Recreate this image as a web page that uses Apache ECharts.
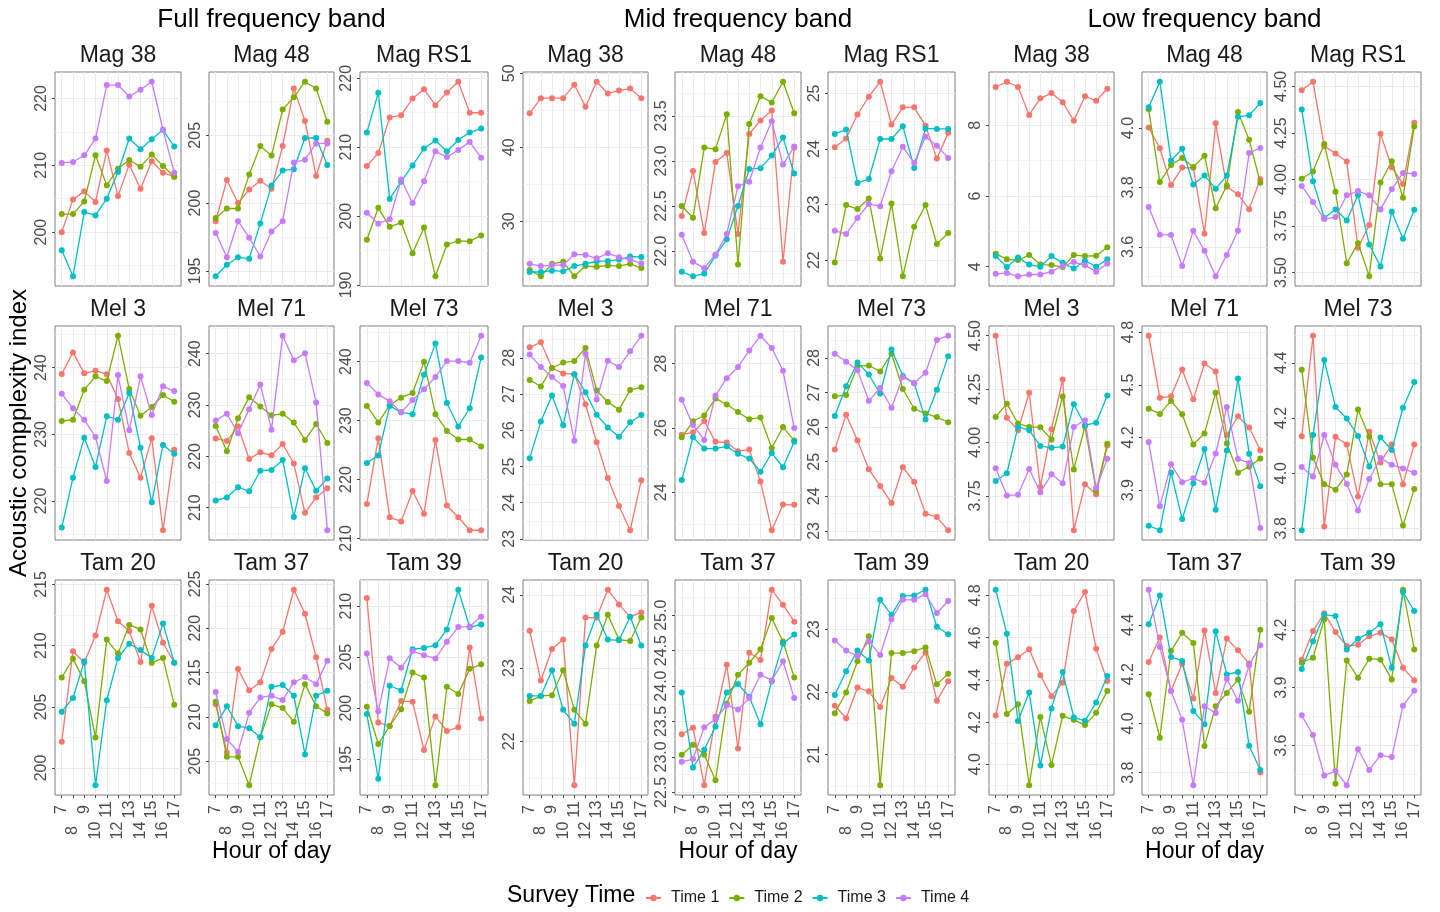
<!DOCTYPE html>
<html>
<head>
<meta charset="utf-8">
<title>Acoustic complexity index by hour of day</title>
<script src="https://cdn.jsdelivr.net/npm/echarts@6/dist/echarts.min.js"></script>
<style>
  html, body { margin: 0; padding: 0; background: #ffffff; }
  #chart { width: 1440px; height: 912px; }
</style>
</head>
<body>
<div id="chart"></div>
<script>
// Hours of the survey day and the four survey times
const hours = [7, 8, 9, 10, 11, 12, 13, 14, 15, 16, 17];
const times = ['Time 1', 'Time 2', 'Time 3', 'Time 4'];
const bands = ['Full frequency band', 'Mid frequency band', 'Low frequency band'];
const siteRows = [
  ['Mag 38', 'Mag 48', 'Mag RS1'],
  ['Mel 3', 'Mel 71', 'Mel 73'],
  ['Tam 20', 'Tam 37', 'Tam 39']
];

// Mean acoustic complexity index, one row per survey time, one value per hour (7..17)
// ---- Full frequency band ----
const fullMag38 = [
  [200.0, 204.9, 206.1, 204.5, 212.2, 205.4, 210.1, 206.5, 210.6, 208.9, 208.3],
  [202.7, 202.7, 204.6, 211.5, 207.0, 209.5, 210.8, 209.8, 211.6, 209.9, 208.3],
  [197.3, 193.4, 203.0, 202.5, 205.0, 209.0, 214.0, 212.4, 213.9, 215.3, 212.8],
  [210.35, 210.5, 211.5, 214.0, 222.0, 222.0, 220.3, 221.3, 222.5, 215.3, 208.9]
];
const fullMag48 = [
  [198.66, 201.7, 200.0, 201.0, 201.65, 201.05, 204.2, 208.45, 206.06, 202.0, 204.6],
  [198.9, 199.6, 199.6, 202.1, 204.2, 203.5, 206.9, 207.8, 208.95, 208.45, 206.0],
  [194.6, 195.45, 196.0, 195.9, 198.5, 201.3, 202.4, 202.5, 204.8, 204.8, 202.8],
  [197.8, 196.0, 198.66, 197.45, 196.06, 197.9, 198.66, 203.0, 203.2, 204.4, 204.4]
];
const fullMagRS1 = [
  [207.27, 209.14, 214.3, 214.65, 217.05, 218.4, 216.1, 217.95, 219.5, 215.0, 215.0],
  [196.58, 201.2, 198.45, 199.07, 194.6, 198.36, 191.27, 195.87, 196.4, 196.34, 197.2],
  [212.15, 217.9, 202.5, 205.0, 207.36, 209.8, 210.96, 209.4, 211.05, 212.15, 212.7],
  [200.5, 198.9, 199.55, 205.3, 201.9, 205.06, 209.4, 208.56, 209.6, 210.77, 208.47]
];
const fullMel3 = [
  [239.05, 242.3, 239.15, 239.55, 239.0, 235.3, 227.2, 223.5, 229.4, 215.6, 227.7],
  [232.0, 232.2, 236.7, 238.7, 238.0, 244.8, 236.8, 232.8, 234.1, 235.9, 234.9],
  [216.0, 223.5, 229.5, 225.1, 232.7, 232.2, 236.2, 228.0, 219.8, 228.4, 227.1],
  [236.1, 233.9, 232.2, 229.6, 223.0, 238.9, 230.6, 238.7, 232.9, 237.2, 236.5]
];
const fullMel71 = [
  [223.5, 223.0, 225.8, 219.5, 220.8, 220.2, 222.4, 218.6, 209.0, 212.0, 213.8],
  [225.9, 221.0, 227.4, 231.5, 229.7, 228.0, 228.3, 226.6, 223.2, 226.3, 222.6],
  [211.4, 212.0, 214.0, 213.2, 217.2, 217.35, 219.3, 208.2, 217.7, 213.3, 215.7],
  [227.0, 228.3, 224.5, 229.2, 234.0, 225.2, 243.5, 238.7, 240.1, 230.5, 205.6]
];
const fullMel73 = [
  [215.86, 227.0, 213.6, 212.9, 218.06, 214.2, 226.7, 215.6, 213.6, 211.4, 211.4],
  [232.5, 229.7, 232.6, 233.9, 234.7, 240.0, 231.1, 228.25, 226.8, 226.8, 225.6],
  [222.8, 224.1, 232.5, 231.4, 231.1, 237.8, 243.1, 233.0, 229.0, 232.1, 240.7],
  [236.4, 234.45, 233.3, 231.4, 233.5, 235.3, 237.4, 240.1, 240.1, 239.8, 244.4]
];
const fullTam20 = [
  [202.15, 209.54, 208.6, 210.84, 214.57, 212.0, 211.2, 208.67, 213.26, 210.24, 208.6],
  [207.4, 208.94, 207.1, 202.5, 210.5, 209.35, 211.7, 211.33, 208.6, 209.0, 205.16],
  [204.6, 205.73, 208.72, 198.59, 205.54, 209.0, 210.16, 209.65, 209.0, 211.82, 208.6],
  null
];
const fullTam37 = [
  [211.44, 206.0, 215.4, 213.0, 213.9, 217.66, 219.6, 224.34, 221.64, 216.73, 210.8],
  [211.7, 205.5, 205.5, 202.3, 207.7, 211.44, 211.0, 209.45, 213.7, 211.2, 210.4],
  [209.07, 211.2, 208.96, 208.73, 207.7, 213.4, 213.6, 212.4, 205.77, 212.4, 212.94],
  [212.8, 207.5, 206.07, 210.46, 212.2, 212.4, 211.9, 213.9, 214.5, 213.7, 216.35]
];
const fullTam39 = [
  [210.8, 198.6, 198.26, 200.7, 200.64, 195.9, 199.2, 197.77, 198.13, 205.94, 199.0],
  [200.15, 196.5, 198.26, 199.9, 203.5, 203.0, 192.46, 202.1, 201.4, 203.86, 204.3],
  [199.43, 193.1, 202.2, 201.74, 205.78, 205.9, 206.17, 207.7, 211.6, 207.93, 208.2],
  [205.36, 199.7, 204.9, 203.96, 205.6, 205.2, 204.87, 206.5, 207.96, 208.0, 208.97]
];

// ---- Mid frequency band ----
const midMag38 = [
  [44.6, 46.65, 46.65, 46.65, 48.47, 45.5, 48.87, 47.27, 47.7, 47.94, 46.65],
  [23.41, 22.57, 24.26, 24.52, 22.57, 23.95, 23.86, 24.04, 23.95, 24.26, 23.68],
  [23.15, 23.15, 23.33, 23.24, 23.95, 24.26, 24.6, 24.65, 24.83, 25.23, 25.19],
  [24.26, 23.95, 24.08, 24.08, 25.54, 25.45, 25.0, 25.68, 25.14, 24.83, 24.3]
];
const midMag48 = [
  [22.39, 22.89, 22.2, 22.99, 23.09, 22.19, 23.3, 23.45, 23.56, 21.88, 23.15],
  [22.5, 22.37, 23.15, 23.13, 23.52, 21.85, 23.41, 23.72, 23.65, 23.88, 23.53],
  [21.77, 21.72, 21.75, 21.95, 22.13, 22.5, 22.91, 22.92, 23.06, 23.26, 22.86],
  [22.18, 21.88, 21.81, 21.96, 22.19, 22.72, 22.77, 23.15, 23.44, 22.96, 23.16]
];
const midMagRS1 = [
  [24.03, 24.19, 24.62, 24.94, 25.21, 24.44, 24.75, 24.75, 24.42, 23.83, 24.29],
  [21.96, 22.99, 22.92, 23.11, 22.03, 23.02, 21.71, 22.6, 22.99, 22.29, 22.49],
  [24.27, 24.35, 23.39, 23.46, 24.18, 24.18, 24.41, 23.66, 24.37, 24.36, 24.36],
  [22.53, 22.47, 22.76, 23.01, 22.97, 23.6, 24.04, 23.75, 24.22, 24.06, 23.84]
];
const midMel3 = [
  [28.29, 28.43, 27.72, 27.57, 27.55, 26.72, 25.67, 24.68, 23.91, 23.24, 24.62],
  [27.39, 27.21, 27.72, 27.87, 27.91, 28.27, 27.1, 26.78, 26.57, 27.11, 27.19],
  [25.23, 26.24, 26.96, 26.14, 27.55, 27.05, 26.43, 26.08, 25.82, 26.22, 26.42],
  [28.09, 27.75, 27.47, 27.22, 25.71, 28.11, 26.85, 27.92, 27.75, 28.18, 28.61]
];
const midMel71 = [
  [25.79, 25.87, 26.22, 25.57, 25.55, 25.28, 25.33, 24.34, 22.82, 23.62, 23.61],
  [25.71, 26.21, 26.39, 26.92, 26.73, 26.5, 26.27, 26.33, 25.38, 26.03, 25.61],
  [24.38, 25.71, 25.36, 25.36, 25.43, 25.2, 25.05, 24.64, 25.22, 24.78, 25.57],
  [26.88, 26.09, 25.63, 27.01, 27.55, 27.9, 28.41, 28.87, 28.49, 27.78, 26.0]
];
const midMel73 = [
  [25.35, 26.36, 25.61, 24.78, 24.3, 23.81, 24.84, 24.42, 23.5, 23.4, 23.02],
  [26.89, 26.93, 27.76, 27.78, 27.61, 28.12, 27.1, 26.53, 26.39, 26.29, 26.14],
  [26.32, 27.18, 27.87, 27.52, 26.97, 28.24, 27.48, 27.27, 26.22, 27.08, 28.05],
  [28.12, 27.89, 27.64, 26.76, 27.13, 26.56, 27.45, 27.27, 27.57, 28.52, 28.64]
];
const midTam20 = [
  [23.51, 22.83, 23.26, 23.39, 21.4, 23.69, 23.69, 24.07, 23.87, 23.7, 23.76],
  [22.55, 22.62, 22.63, 22.97, 22.43, 22.24, 23.31, 23.73, 23.39, 23.37, 23.69],
  [22.62, 22.62, 22.97, 22.43, 22.24, 23.31, 23.73, 23.39, 23.38, 23.7, 23.31],
  null
];
const midTam37 = [
  [23.32, 23.41, 22.6, 23.57, 24.3, 23.12, 24.47, 24.37, 25.36, 25.15, 24.91],
  [23.03, 23.17, 23.03, 22.67, 23.75, 24.16, 24.33, 24.52, 24.96, 24.63, 24.12],
  [23.91, 22.85, 23.1, 23.43, 23.91, 24.03, 23.85, 23.46, 24.07, 24.6, 24.73],
  [22.93, 22.97, 23.42, 23.53, 23.73, 23.67, 23.83, 24.16, 24.08, 24.35, 23.83]
];
const midTam39 = [
  [21.78, 21.58, 22.07, 22.01, 21.76, 22.22, 22.08, 22.39, 22.63, 21.86, 22.17],
  [21.66, 21.99, 22.49, 22.89, 20.51, 22.62, 22.62, 22.65, 22.71, 22.12, 22.29],
  [21.95, 22.33, 22.66, 22.5, 23.47, 23.23, 23.53, 23.54, 23.63, 23.04, 22.92],
  [22.82, 22.66, 22.57, 22.81, 22.59, 23.16, 23.47, 23.47, 23.56, 23.26, 23.45]
];

// ---- Low frequency band ----
const lowMag38 = [
  [9.08, 9.23, 9.08, 8.29, 8.76, 8.91, 8.65, 8.13, 8.82, 8.69, 9.03],
  [4.37, 4.21, 4.19, 4.33, 4.06, 4.05, 3.99, 4.33, 4.3, 4.31, 4.55],
  [4.3, 3.99, 4.26, 4.06, 4.0, 4.3, 4.11, 3.95, 4.17, 4.0, 4.21],
  [3.8, 3.82, 3.73, 3.78, 3.78, 3.86, 4.02, 4.13, 4.04, 3.86, 4.09]
];
const lowMag48 = [
  [4.002, 3.932, 3.808, 3.867, 3.866, 3.644, 4.016, 3.802, 3.777, 3.727, 3.828],
  [4.063, 3.818, 3.876, 3.899, 3.869, 3.907, 3.73, 3.807, 4.054, 3.961, 3.816],
  [4.07, 4.156, 3.891, 3.93, 3.81, 3.84, 3.796, 3.84, 4.038, 4.043, 4.084],
  [3.734, 3.641, 3.64, 3.536, 3.654, 3.587, 3.501, 3.573, 3.654, 3.916, 3.933]
];
const lowMagRS1 = [
  [4.479, 4.525, 4.179, 4.14, 4.096, 3.633, 3.755, 4.246, 4.066, 3.975, 4.305],
  [4.004, 4.043, 4.19, 3.934, 3.55, 3.658, 3.48, 3.984, 4.098, 3.902, 4.285],
  [4.376, 3.991, 3.793, 3.839, 3.78, 3.917, 3.651, 3.532, 3.826, 3.681, 3.837],
  [3.965, 3.879, 3.787, 3.798, 3.915, 3.938, 3.915, 3.839, 3.947, 4.035, 4.03]
];
const lowMel3 = [
  [4.5, 4.116, 4.057, 4.233, 3.792, 4.062, 4.295, 3.589, 3.804, 3.758, 3.986],
  [4.12, 4.182, 4.089, 4.073, 4.071, 4.014, 4.216, 3.874, 4.076, 3.773, 3.994],
  [3.82, 3.856, 4.073, 4.057, 3.984, 3.975, 3.981, 4.179, 4.081, 4.092, 4.22],
  [3.879, 3.752, 3.755, 3.876, 3.767, 3.851, 3.809, 4.073, 4.104, 3.787, 3.924]
];
const lowMel71 = [
  [4.779, 4.426, 4.434, 4.587, 4.417, 4.621, 4.575, 4.213, 4.321, 4.257, 4.128],
  [4.364, 4.334, 4.408, 4.332, 4.16, 4.223, 4.455, 4.166, 4.0, 4.034, 4.081],
  [3.698, 3.672, 4.0, 3.736, 3.94, 4.134, 3.789, 4.126, 4.536, 4.108, 3.923],
  [4.174, 3.808, 4.047, 3.945, 3.968, 3.942, 4.109, 4.374, 4.077, 4.055, 3.685]
];
const lowMel73 = [
  [4.134, 4.498, 3.807, 4.132, 4.104, 3.915, 4.15, 4.039, 4.104, 3.96, 4.104],
  [4.375, 4.056, 3.96, 3.94, 3.995, 4.231, 4.132, 3.96, 3.96, 3.81, 3.943],
  [3.793, 4.138, 4.41, 4.24, 4.198, 4.135, 4.024, 4.129, 4.084, 4.237, 4.33],
  [4.022, 3.988, 4.138, 4.03, 3.961, 3.865, 3.979, 4.055, 4.03, 4.017, 4.001]
];
const lowTam20 = [
  [4.231, 4.477, 4.507, 4.545, 4.422, 4.323, 4.387, 4.726, 4.817, 4.548, 4.395],
  [4.575, 4.238, 4.285, 3.901, 4.224, 3.997, 4.23, 4.211, 4.186, 4.244, 4.348],
  [4.827, 4.619, 4.205, 4.34, 3.994, 4.265, 4.438, 4.222, 4.206, 4.293, 4.419],
  null
];
const lowTam37 = [
  [4.25, 4.349, 4.132, 4.242, 4.101, 4.378, 4.124, 4.345, 4.297, 4.243, 3.801],
  [4.119, 3.942, 4.295, 4.368, 4.327, 3.908, 4.07, 4.124, 4.178, 4.047, 4.381],
  [4.403, 4.52, 4.27, 4.254, 4.051, 3.997, 4.374, 4.199, 4.209, 3.909, 3.811],
  [4.543, 4.311, 4.132, 4.015, 3.749, 4.07, 4.042, 4.181, 4.092, 4.236, 4.318]
];
const lowTam39 = [
  [4.045, 4.193, 4.286, 4.188, 4.116, 4.122, 4.166, 4.184, 4.15, 4.003, 3.938],
  [4.029, 4.055, 4.255, 3.403, 4.041, 3.952, 4.05, 4.045, 3.943, 4.407, 4.098],
  [3.997, 4.14, 4.278, 4.271, 4.098, 4.153, 4.184, 4.229, 4.003, 4.395, 4.297],
  [3.757, 3.655, 3.445, 3.469, 3.395, 3.581, 3.474, 3.55, 3.541, 3.807, 3.884]
];

// y tick labels of each panel
const fullTicks = [
  [['200', '210', '220'], ['195', '200', '205'], ['190', '200', '210', '220']],
  [['220', '230', '240'], ['210', '220', '230', '240'], ['210', '220', '230', '240']],
  [['200', '205', '210', '215'], ['205', '210', '215', '220', '225'], ['195', '200', '205', '210']]
];
const midTicks = [
  [['30', '40', '50'], ['22.0', '22.5', '23.0', '23.5'], ['22', '23', '24', '25']],
  [['23', '24', '25', '26', '27', '28'], ['24', '26', '28'], ['23', '24', '25', '26', '27', '28']],
  [['22', '23', '24'], ['22.5', '23.0', '23.5', '24.0', '24.5', '25.0'], ['21', '22', '23']]
];
const lowTicks = [
  [['4', '6', '8'], ['3.6', '3.8', '4.0'], ['3.50', '3.75', '4.00', '4.25', '4.50']],
  [['3.75', '4.00', '4.25', '4.50'], ['3.9', '4.2', '4.5', '4.8'], ['3.8', '4.0', '4.2', '4.4']],
  [['4.0', '4.2', '4.4', '4.6', '4.8'], ['3.8', '4.0', '4.2', '4.4'], ['3.6', '3.9', '4.2']]
];

const bandValues = [
  [[fullMag38, fullMag48, fullMagRS1], [fullMel3, fullMel71, fullMel73], [fullTam20, fullTam37, fullTam39]],
  [[midMag38, midMag48, midMagRS1], [midMel3, midMel71, midMel73], [midTam20, midTam37, midTam39]],
  [[lowMag38, lowMag48, lowMagRS1], [lowMel3, lowMel71, lowMel73], [lowTam20, lowTam37, lowTam39]]
];
const bandTicks = [fullTicks, midTicks, lowTicks];

// ---- layout and style ----
const FONT = '"Liberation Sans", Arial, Helvetica, sans-serif';
const palette = ['#F8766D', '#7CAE00', '#00BFC4', '#C77CFF'];
const panelLeft = [[55, 209, 360], [523, 675, 828], [989, 1142, 1295]];
const panelWidth = [[126, 125, 128], [125, 126, 127], [125, 125, 126]];
const panelTop = [72, 326, 580];
const panelHeight = [214, 214, 215];
const X_MIN = 6.4, X_MAX = 17.6;
const oddHours = hours.filter(h => h % 2 === 1);
const evenHours = hours.filter(h => h % 2 === 0);

const grid = [], xAxis = [], yAxis = [], series = [], graphic = [];

bands.forEach((band, b) => {
  // band heading, centred over the middle column
  const midCol = panelLeft[b][1] + panelWidth[b][1] / 2;
  graphic.push({
    type: 'text', x: midCol, y: 20,
    style: { text: band, fontSize: 26, fontFamily: FONT, fill: '#000000',
      textAlign: 'center', textVerticalAlign: 'middle', align: 'center', verticalAlign: 'middle' }
  });
  graphic.push({
    type: 'text', x: midCol, y: 852,
    style: { text: 'Hour of day', fontSize: 23, fontFamily: FONT, fill: '#000000',
      textAlign: 'center', textVerticalAlign: 'middle', align: 'center', verticalAlign: 'middle' }
  });

  siteRows.forEach((sites, r) => {
    const bottomRow = r === siteRows.length - 1;
    sites.forEach((site, c) => {
      const values = bandValues[b][r][c];
      const ticks = bandTicks[b][r][c];
      const all = values.filter(Boolean).flat();
      const vmin = Math.min(...all), vmax = Math.max(...all);
      const pad = (vmax - vmin) * 0.05;
      const lo = vmin - pad, hi = vmax + pad;
      const majors = ticks.map(Number);
      const step = majors[1] - majors[0];
      const minors = [];
      for (let k = -1; k < majors.length; k++) {
        const m = majors[0] + (k + 0.5) * step;
        if (m > lo && m < hi) minors.push(m);
      }
      const tickText = v => {
        const i = majors.findIndex(m => Math.abs(m - v) < step * 1e-6);
        return i >= 0 ? ticks[i] : '';
      };

      const left = panelLeft[b][c], top = panelTop[r];
      const width = panelWidth[b][c], height = panelHeight[r];
      const gi = grid.length;
      grid.push({
        left: left, top: top, width: width, height: height,
        show: true, backgroundColor: '#ffffff', borderColor: '#7f7f7f', borderWidth: 1,
        containLabel: false, outerBoundsMode: 'none'
      });

      // strip title
      graphic.push({
        type: 'text', x: left + width / 2, y: top - 16,
        style: { text: site, fontSize: 23, fontFamily: FONT, fill: '#1a1a1a',
          textAlign: 'center', textVerticalAlign: 'middle', align: 'center', verticalAlign: 'middle' }
      });

      const labelBase = { rotate: 90, fontSize: 16, fontFamily: FONT, color: '#4d4d4d', align: 'center' };
      // x axis with odd hour labels, ticks and vertical grid lines (labels on the bottom row only)
      xAxis.push({
        gridIndex: gi, type: 'value', position: 'bottom', min: X_MIN, max: X_MAX, splitNumber: 11,
        axisLine: { show: false },
        axisTick: { show: bottomRow, customValues: hours, length: 3, lineStyle: { color: '#444444', width: 1 } },
        axisLabel: Object.assign({}, labelBase, { show: bottomRow, customValues: oddHours, margin: 14.5, formatter: v => String(v) }),
        splitLine: { show: true, lineStyle: { color: '#ebebeb', width: 1 } }
      });
      // second row of x labels (even hours), dodged further down
      xAxis.push({
        gridIndex: gi, type: 'value', position: 'bottom', min: X_MIN, max: X_MAX, splitNumber: 11,
        axisLine: { show: false },
        axisTick: { show: false, customValues: evenHours },
        axisLabel: Object.assign({}, labelBase, { show: bottomRow, customValues: evenHours, margin: 35.5, formatter: v => String(v) }),
        splitLine: { show: false }
      });
      // y axis: major ticks, labels and grid lines
      yAxis.push({
        gridIndex: gi, type: 'value', position: 'left', min: lo, max: hi,
        axisLine: { show: false },
        axisTick: { show: true, customValues: majors, length: 3, lineStyle: { color: '#444444', width: 1 } },
        axisLabel: Object.assign({}, labelBase, { customValues: majors, margin: 5, formatter: tickText }),
        splitLine: { show: true, lineStyle: { color: '#ebebeb', width: 1 } }
      });
      // overlay y axis carrying the minor grid lines
      yAxis.push({
        gridIndex: gi, type: 'value', position: 'right', min: lo, max: hi,
        axisLine: { show: false },
        axisTick: { show: false, customValues: minors },
        axisLabel: { show: false },
        splitLine: { show: true, lineStyle: { color: '#f1f1f1', width: 0.7 } }
      });

      values.forEach((row, t) => {
        if (!row) return;
        series.push({
          type: 'line', name: times[t],
          xAxisIndex: 2 * gi, yAxisIndex: 2 * gi,
          data: hours.map((h, j) => [h, row[j]]),
          symbol: 'circle', symbolSize: 6, showSymbol: true,
          lineStyle: { color: palette[t], width: 1.3 },
          itemStyle: { color: palette[t] },
          emphasis: { disabled: true },
          silent: true, z: 2 + t
        });
      });
    });
  });
});

// shared y axis title
graphic.push({
  type: 'text', x: 19, y: 433, rotation: Math.PI / 2,
  style: { text: 'Acoustic compplexity index', fontSize: 24, fontFamily: FONT, fill: '#000000',
    textAlign: 'center', textVerticalAlign: 'middle', align: 'center', verticalAlign: 'middle' }
});
// legend title
graphic.push({
  type: 'text', x: 507, y: 896,
  style: { text: 'Survey Time', fontSize: 23, fontFamily: FONT, fill: '#000000',
    textAlign: 'left', textVerticalAlign: 'middle', align: 'left', verticalAlign: 'middle' }
});

const chart = echarts.init(document.getElementById('chart'), null, { renderer: 'canvas' });
chart.setOption({
  animation: false,
  backgroundColor: '#ffffff',
  color: palette,
  grid: grid,
  xAxis: xAxis,
  yAxis: yAxis,
  series: series,
  graphic: graphic,
  legend: {
    data: times, orient: 'horizontal', left: 640, top: 885,
    itemWidth: 15, itemHeight: 8, itemGap: 9, selectedMode: false,
    textStyle: { fontSize: 16, fontFamily: FONT, color: '#1a1a1a', padding: [0, 0, 0, 5] }
  }
});
</script>
</body>
</html>
